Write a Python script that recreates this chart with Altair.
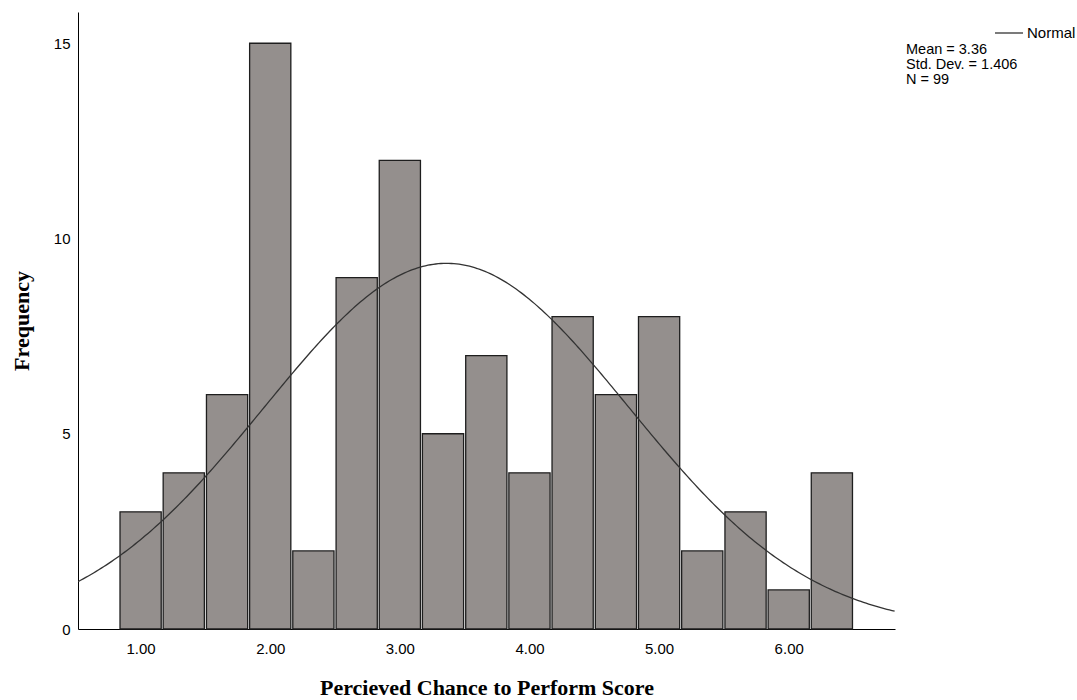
import altair as alt
import pandas as pd

# Histogram bins (centres) and frequencies
bin_centers = [1.00, 1.333, 1.667, 2.00, 2.333, 2.667, 3.00, 3.333, 3.667,
               4.00, 4.333, 4.667, 5.00, 5.333, 5.667, 6.00, 6.333]
counts = [3, 4, 6, 15, 2, 9, 12, 5, 7, 4, 8, 6, 8, 2, 3, 1, 4]
BIN_WIDTH = 1 / 3

# Summary statistics shown in the legend
MEAN = 3.36
SD = 1.406
N = 99

x_ticks = [1, 2, 3, 4, 5, 6]
y_ticks = [0, 5, 10, 15]
X_DOMAIN = [0.517, 6.82]
Y_DOMAIN = [0, 15.8]

bars_df = pd.DataFrame({"center": bin_centers, "count": counts})

FILL = "#948f8d"
EDGE = "#1e1e1e"

x_scale = alt.Scale(domain=X_DOMAIN, nice=False, zero=False)
y_scale = alt.Scale(domain=Y_DOMAIN, nice=False)

x_axis = alt.Axis(values=x_ticks, format=".2f", ticks=False, grid=False,
                  domainColor="#000000", domainWidth=1,
                  labelFont="Liberation Sans", labelFontSize=15, labelColor="#000000",
                  labelPadding=12,
                  title="Percieved Chance to Perform Score",
                  titleFont="Liberation Serif", titleFontSize=22, titleFontWeight="bold",
                  titleColor="#000000", titlePadding=21)
y_axis = alt.Axis(values=y_ticks, ticks=False, grid=False,
                  domainColor="#000000", domainWidth=1,
                  labelFont="Liberation Sans", labelFontSize=15, labelColor="#000000",
                  labelPadding=8,
                  title="Frequency",
                  titleFont="Liberation Serif", titleFontSize=22, titleFontWeight="bold",
                  titleColor="#000000", titlePadding=20)

bars = alt.Chart(bars_df).transform_calculate(
    lo=f"datum.center - {BIN_WIDTH / 2}",
    hi=f"datum.center + {BIN_WIDTH / 2}",
).mark_bar(fill=FILL, stroke=EDGE, strokeWidth=1.3, xOffset=1, x2Offset=-1).encode(
    x=alt.X("lo:Q", scale=x_scale, axis=x_axis),
    x2="hi:Q",
    y=alt.Y("count:Q", scale=y_scale, axis=y_axis),
    y2=alt.datum(0),
)

curve = alt.Chart(alt.sequence(X_DOMAIN[0], X_DOMAIN[1], 0.02, as_="x")).transform_calculate(
    y=f"{N} * {BIN_WIDTH} / ({SD} * sqrt(2 * PI)) * exp(-0.5 * pow((datum.x - {MEAN}) / {SD}, 2))"
).mark_line(color="#333333", strokeWidth=1.3, clip=True).encode(
    x=alt.X("x:Q", scale=x_scale),
    y=alt.Y("y:Q", scale=y_scale),
)

legend_line = alt.Chart(pd.DataFrame({"k": [0]})).mark_rule(color="#333333", strokeWidth=1.3).encode(
    x=alt.value(917), x2=alt.value(945), y=alt.value(21)
)
legend_label = alt.Chart(pd.DataFrame({"k": [0]})).mark_text(
    align="left", baseline="middle", font="Liberation Sans", fontSize=15, color="#000000"
).encode(x=alt.value(949), y=alt.value(21), text=alt.value("Normal"))

stats_text = alt.Chart(pd.DataFrame({"k": [0]})).mark_text(
    align="left", baseline="middle", font="Liberation Sans", fontSize=14.5,
    color="#000000", lineHeight=15
).encode(
    x=alt.value(828), y=alt.value(38),
    text=alt.value([f"Mean = {MEAN:.2f}", f"Std. Dev. = {SD:.3f}", f"N = {N}"]),
)

chart = alt.layer(bars, curve, legend_line, legend_label, stats_text).properties(
    width=817, height=617,
    autosize=alt.AutoSizeParams(type="none"),
    padding={"left": 78, "top": 12, "right": 182, "bottom": 71},
    background="#ffffff",
).configure_view(stroke=None)

chart.save("out.html", embed_options={"renderer": "svg", "actions": False})
